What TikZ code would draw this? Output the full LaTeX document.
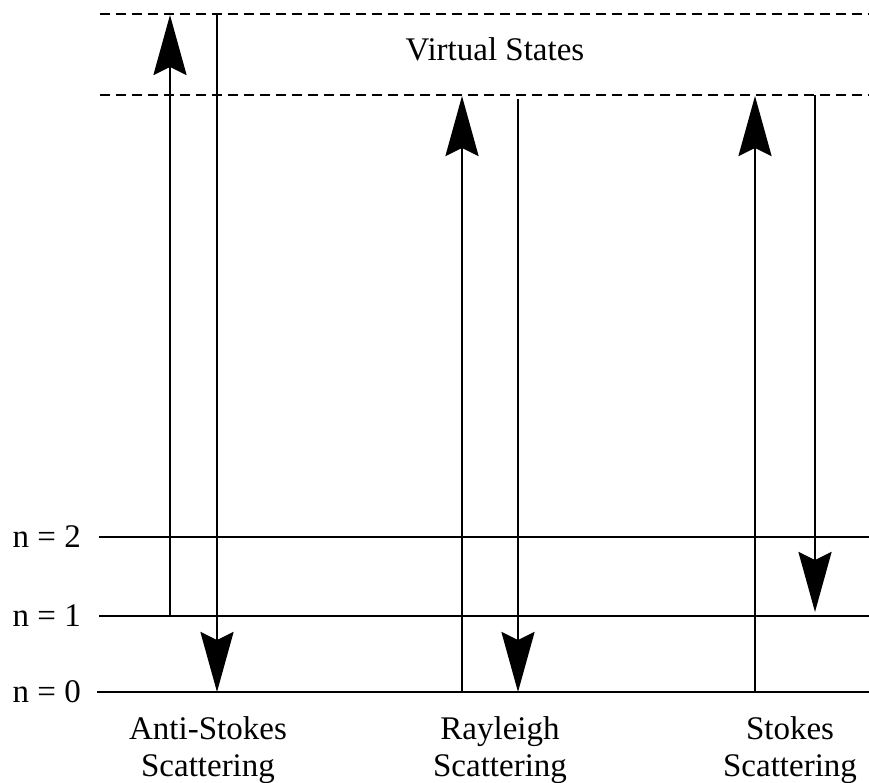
\documentclass[tikz,border=0pt]{standalone}
\usepackage{fontspec}
\setmainfont{Liberation Serif}
\usetikzlibrary{arrows.meta}
\begin{document}
\begin{tikzpicture}[x=1pt,y=-1pt,
  level/.style={line width=2.6pt},
  virt/.style={line width=2.6pt, dash pattern=on 10pt off 6pt},
  upar/.style={line width=2.6pt,-{Stealth[length=60pt,width=33pt,inset=8pt]}},
  lbl/.style={font=\fontsize{33}{37}\selectfont, align=center, inner sep=0pt},
  nlbl/.style={font=\fontsize{33}{37}\selectfont, anchor=east, inner sep=0pt}]
\useasboundingbox (0,0) rectangle (869,782);
% level endpoints
\coordinate (v2L) at (100,14);  \coordinate (v2R) at (869,14);
\coordinate (v1L) at (100,95);  \coordinate (v1R) at (869,95);
\coordinate (n2L) at (99,537);  \coordinate (n2R) at (869,537);
\coordinate (n1L) at (99,616);  \coordinate (n1R) at (869,616);
\coordinate (n0L) at (97,692);  \coordinate (n0R) at (869,692);
\draw[virt] (v2L) -- (v2R);
\draw[virt] (v1L) -- (v1R);
\draw[level] (n2L) -- (n2R);
\draw[level] (n1L) -- (n1R);
\draw[level] (n0L) -- (n0R);
\node[lbl] (vs) at (495,49) {Virtual States};
\node[nlbl] (ln2) at (81,537) {n = 2};
\node[nlbl] (ln1) at (81,616) {n = 1};
\node[nlbl] (ln0) at (81,692) {n = 0};
% transition endpoints
\coordinate (a1) at (170,616); \coordinate (a2) at (170,15);
\coordinate (a3) at (217,14);  \coordinate (a4) at (217,692);
\coordinate (r1) at (462,692); \coordinate (r2) at (462,96);
\coordinate (r3) at (518,99);  \coordinate (r4) at (518,692);
\coordinate (s1) at (755,692); \coordinate (s2) at (755,96);
\coordinate (s3) at (815,95);  \coordinate (s4) at (815,612);
\draw[upar] (a1) -- (a2);
\draw[upar] (a3) -- (a4);
\draw[upar] (r1) -- (r2);
\draw[upar] (r3) -- (r4);
\draw[upar] (s1) -- (s2);
\draw[upar] (s3) -- (s4);
\node[lbl] (las) at (208,750) {Anti-Stokes\\Scattering};
\node[lbl] (lr) at (500,750) {Rayleigh\\Scattering};
\node[lbl] (ls) at (790,750) {Stokes\\Scattering};
\end{tikzpicture}
\end{document}
